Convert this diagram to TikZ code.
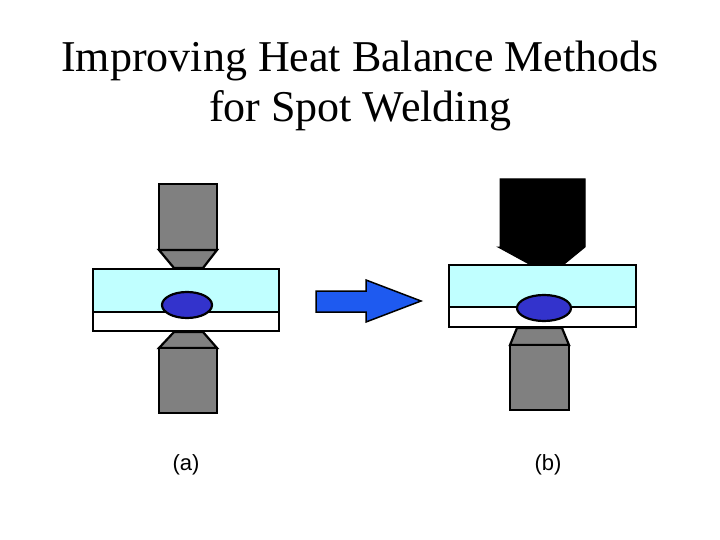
\documentclass[tikz,border=0pt]{standalone}
\usepackage{fontspec}
\setmainfont{Liberation Serif}
\newfontfamily\labelfont{Liberation Sans}
\usetikzlibrary{positioning}
\definecolor{electrode}{RGB}{128,128,128}
\definecolor{sheet}{RGB}{192,255,255}
\definecolor{nugget}{RGB}{51,51,204}
\definecolor{arrowblue}{RGB}{30,90,240}

\tikzset{
  part/.style={draw=black,line width=2.2pt,line join=miter},
  caption/.style={font=\labelfont\fontsize{22}{26}\selectfont}
}

\begin{document}
\begin{tikzpicture}[x=1pt,y=-1pt]
    \useasboundingbox (0,0) rectangle (720,540);
    \node[align=center,font=\fontsize{44}{50}\selectfont] (title) at (360,86)
        {Improving Heat Balance Methods\\for Spot Welding};

    % (a) equal electrodes
    \filldraw[part,fill=electrode] (159,184) rectangle (217,250);
    \filldraw[part,fill=electrode] (159,250) -- (217,250) -- (203,268) -- (174,268) -- cycle;
    \filldraw[part,fill=sheet] (93,269) rectangle (279,312);
    \filldraw[part,fill=white] (93,312) rectangle (279,331);
    \filldraw[part,fill=nugget] (187,305) ellipse (25 and 13);
    \filldraw[part,fill=electrode] (174,332) -- (203,332) -- (217,348) -- (159,348) -- cycle;
    \filldraw[part,fill=electrode] (159,348) rectangle (217,413);

    % arrow
    \filldraw[draw=black,line width=1.5pt,fill=arrowblue]
        (316,291) -- (366,291) -- (366,280) -- (421,301) -- (366,322) -- (366,312) -- (316,312) -- cycle;

    % (b) large upper electrode
    \filldraw[fill=black,draw=black,line width=1pt]
        (500,179) -- (585,179) -- (585,247) -- (563,265) -- (531,265) -- (498,247) -- (500,247) -- cycle;
    \filldraw[part,fill=sheet] (449,265) rectangle (636,307);
    \filldraw[part,fill=white] (449,307) rectangle (636,327);
    \filldraw[part,fill=nugget] (544,308) ellipse (27 and 13);
    \filldraw[part,fill=electrode] (517,328) -- (562,328) -- (569,345) -- (510,345) -- cycle;
    \filldraw[part,fill=electrode] (510,345) rectangle (569,410);

    \node[caption] (capa) at (186,465) {(a)};
    \node[caption] (capb) at (548,465) {(b)};
\end{tikzpicture}
\end{document}
